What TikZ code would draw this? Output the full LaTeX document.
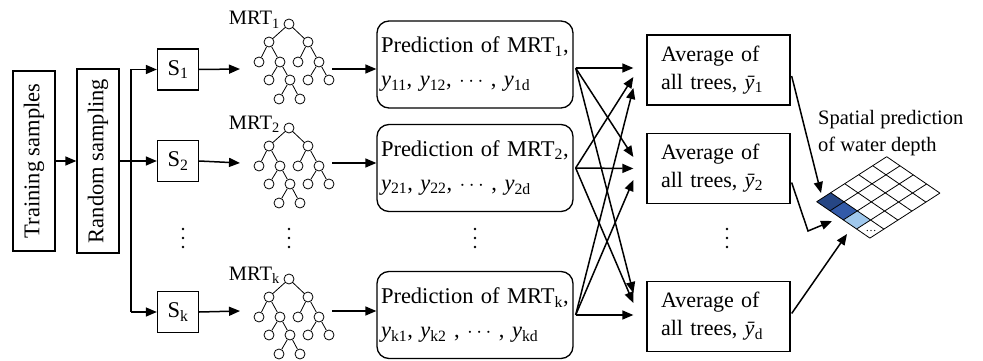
\documentclass[tikz,border=0pt]{standalone}
\usepackage{fontspec}
\setmainfont{Liberation Serif}
\usetikzlibrary{calc}
\usetikzlibrary{arrows.meta}
\definecolor{deepblue}{RGB}{38,70,132}
\definecolor{midblue}{RGB}{50,90,168}
\definecolor{paleblue}{RGB}{160,200,236}
\newcommand\yv[1]{\textit{y}\textsubscript{#1}}
\newcommand\ybar[1]{\textit{\=y}\textsubscript{#1}}
\newcommand\mrtTree[4]{
    \def\A{#1}
    \node[leaf] (#2r) at (\A) {};
    \node[leaf] (#2a) at ($(\A) + (-20,18)$) {};
    \node[leaf] (#2b) at ($(\A) + (19,18)$) {};
    \node[leaf] (#2c) at ($(\A) + (-30,38)$) {};
    \node[leaf] (#2d) at ($(\A) + (-9,38)$) {};
    \node[leaf] (#2e) at ($(\A) + (9,38)$) {};
    \node[leaf] (#2f) at ($(\A) + (30,38)$) {};
    \node[leaf] (#2g) at ($(\A) + (-20,56)$) {};
    \node[leaf] (#2h) at ($(\A) + (1,56)$) {};
    \node[leaf] (#2i) at ($(\A) + (19,56)$) {};
    \node[leaf] (#2j) at ($(\A) + (40,56)$) {};
    \node[leaf] (#2k) at ($(\A) + (-10,75)$) {};
    \node[leaf] (#2l) at ($(\A) + (11,75)$) {};
    \foreach \pa/\ch in {r/a,r/b,a/c,a/d,b/e,b/f,d/g,d/h,f/i,f/j,h/k,h/l}
    {
        \draw[twig] (#2\pa) -- (#2\ch);
    }
    \node[mrt, anchor=base east] (#2lab) at ($(\A) + (-9,1)$) {MRT\textsubscript{#3}};
    \coordinate (#2in) at (240,#4);
    \coordinate (#2out) at (332,#4);
}
\newcommand\vdotsAt[2]{
    \node[inner sep=0pt, minimum width=4pt, minimum height=24pt] (#2) at (#1) {};
    \foreach \d in {-9,0,9}
    {
        \fill ($(#2)+(0,\d)$) circle (1.3);
    }
}

\begin{document}
\begin{tikzpicture}[x=1pt, y=-1pt,
        every node/.style={font=\fontsize{22.5}{34}\selectfont},
        box/.style={draw, line width=1.3pt, inner sep=0pt},
        sbox/.style={box, minimum size=41pt},
        pred/.style={box, rounded corners=12pt, minimum width=196pt,
            minimum height=87pt, text width=188pt, align=left},
        avg/.style={box, minimum width=143pt, minimum height=70pt,
            text width=115pt, align=left, font=\fontsize{22}{28}\selectfont},
        leaf/.style={circle, draw, line width=0.8pt, minimum size=10pt, inner sep=0pt},
        twig/.style={line width=0.8pt},
        mrt/.style={inner sep=0pt, font=\fontsize{20.5}{24}\selectfont},
        spat/.style={inner sep=0pt, align=left, font=\fontsize{20.5}{27}\selectfont},
        wire/.style={line width=1.5pt},
        arr/.style={wire, -{Triangle[length=11pt,width=9pt]}},
        mesh/.style={line width=0.8pt}
    ]
    \useasboundingbox (0,0) rectangle (983,361);

    \node[box, rotate=90, minimum width=180pt, minimum height=42pt] (train) at (34,161) {Training samples};
    \node[box, rotate=90, minimum width=184pt, minimum height=42pt] (rand) at (98,161) {Random sampling};
    \draw[arr] (train) -- (rand);

    \node[sbox] (s1) at (178,69.5) {S\textsubscript{1}};
    \node[sbox] (s2) at (178,161) {S\textsubscript{2}};
    \node[sbox] (sk) at (178,312) {S\textsubscript{k}};
    \coordinate (split) at (131,161);
    \draw[wire] (rand) -- (split);
    \draw[wire] (split |- s1) -- (split |- sk);
    \foreach \s in {s1,s2,sk}
    {
        \draw[arr] (split |- \s) -- (\s);
    }

    \mrtTree{289,24}{t1}{1}{69}
    \mrtTree{289,128}{t2}{2}{163}
    \mrtTree{289,279}{tk}{k}{311}

    \node[pred] (p1) at (475,64.5) {Prediction of MRT\textsubscript{1},\\\yv{11}, \yv{12}, $\cdots$ , \yv{1d}};
    \node[pred] (p2) at (475,168) {Prediction of MRT\textsubscript{2},\\\yv{21}, \yv{22}, $\cdots$ , \yv{2d}};
    \node[pred] (pk) at (475,315) {Prediction of MRT\textsubscript{k},\\\yv{k1}, \yv{k2} , $\cdots$ , \yv{kd}};

    \foreach \s/\t/\p in {s1/t1/p1,s2/t2/p2,sk/tk/pk}
    {
        \draw[arr] (\s.east) -- (\t in);
        \draw[arr] (\t out) -- (\t out -| \p.west);
    }

    \vdotsAt{183,238}{dots1}
    \vdotsAt{289,238}{dots2}
    \vdotsAt{475,238}{dots3}
    \vdotsAt{727,238}{dots4}

    \node[avg] (a1) at (718.5,70) {Average of\\all trees, \ybar{1}};
    \node[avg] (a2) at (718.5,168.5) {Average of\\all trees, \ybar{2}};
    \node[avg] (ad) at (718.5,316.5) {Average of\\all trees, \ybar{d}};

    \foreach \src/\sy/\dst/\dy in {p1/3.5/a1/-2, p1/3.5/a2/-11.5, p1/3.5/ad/-23.5,
        p2/0/a1/7, p2/0/a2/0, p2/0/ad/-13.5,
        pk/0/a1/18, pk/0/a2/11.5, pk/0/ad/-1.5}
    {
        \draw[arr] ($(\src.east)+(2,\sy)$) -- ($(\dst.west)+(-13,\dy)$);
    }

    % grid of the predicted depths
    \coordinate (g) at (816.7,201.7);
    \foreach \j/\c in {0/deepblue,1/midblue,2/paleblue}
    {
        \fill[\c] ($(g)+({13.3*\j},{9.1*\j})$) -- ++(14,-9) -- ++(13.3,9.1) -- ++(-14,9) -- cycle;
    }
    \foreach \i in {0,...,5}
    {
        \draw[mesh] ($(g)+({14*\i},{-9*\i})$) -- ++(53.2,36.4);
    }
    \foreach \j in {0,...,4}
    {
        \draw[mesh] ($(g)+({13.3*\j},{9.1*\j})$) -- ++(70,-45);
    }
    \node[inner sep=0pt, font=\fontsize{11}{11}\selectfont] (more) at (871,231) {\ldots};

    \node[spat, anchor=west] (spat) at (818,133) {Spatial prediction\\of water depth};

    \coordinate (g1tip) at (821,193);
    \coordinate (bend) at (808,231);
    \coordinate (g2tip) at (832,221);
    \coordinate (g3tip) at (847,234);
    \draw[arr] ($(a1.east)+(1,6)$) -- (g1tip);
    \draw[arr] ($(a2.east)+(1,14)$) -- (bend) -- (g2tip);
    \draw[arr] ($(ad.east)+(1,-3)$) -- (g3tip);
\end{tikzpicture}
\end{document}
